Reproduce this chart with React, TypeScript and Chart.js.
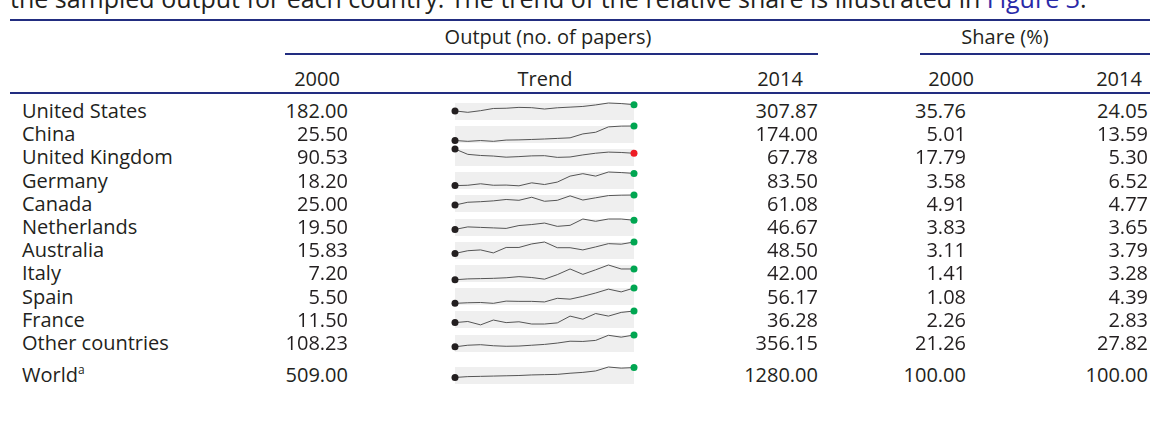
import React, { useEffect, useRef } from 'react';
import { Chart, registerables } from 'chart.js';

Chart.register(...registerables);

// ---------- data ----------
const years = ['2000', '2001', '2002', '2003', '2004', '2005', '2006', '2007', '2008', '2009', '2010', '2011', '2012', '2013', '2014'];

const countries = ['United States', 'China', 'United Kingdom', 'Germany', 'Canada', 'Netherlands', 'Australia', 'Italy', 'Spain', 'France', 'Other countries', 'World'];

const output2000 = [182.0, 25.5, 90.53, 18.2, 25.0, 19.5, 15.83, 7.2, 5.5, 11.5, 108.23, 509.0];
const output2014 = [307.87, 174.0, 67.78, 83.5, 61.08, 46.67, 48.5, 42.0, 56.17, 36.28, 356.15, 1280.0];
const share2000 = [35.76, 5.01, 17.79, 3.58, 4.91, 3.83, 3.11, 1.41, 1.08, 2.26, 21.26, 100.0];
const share2014 = [24.05, 13.59, 5.3, 6.52, 4.77, 3.65, 3.79, 3.28, 4.39, 2.83, 27.82, 100.0];

// yearly output per country (trend sparklines)
const trendUS = [182, 154, 187, 231, 236, 253, 247, 220, 245, 258, 272, 302, 341, 330, 307.87];
const trendChina = [25.5, 17, 25, 17, 30, 32, 36, 41, 47, 53, 93, 110, 165, 173, 174];
const trendUK = [90.53, 62, 56, 53, 47, 50, 54, 55, 46, 48, 59, 68, 74, 72, 67.78];
const trendGermany = [18.2, 20, 28, 20, 21, 17, 33, 24, 37, 69, 82, 69, 91, 88, 83.5];
const trendCanada = [25, 35, 37, 40, 45, 42, 53, 38.5, 42, 58, 43, 51, 59, 60.5, 61.08];
const trendNetherlands = [19.5, 27, 25.5, 24, 22.5, 31, 34, 38.4, 28.6, 31.6, 50.4, 43.6, 50.4, 50.4, 46.67];
const trendAustralia = [15.83, 23.6, 25.9, 17.4, 32.9, 32.9, 43, 48.5, 32.2, 32.2, 25.9, 34.5, 43.8, 42.3, 48.5];
const trendItaly = [7.2, 10, 10.9, 11.8, 13.6, 17.3, 14.5, 9.1, 23.7, 42, 24.6, 39.3, 54.8, 42, 42];
const trendSpain = [5.5, 7.4, 8.3, 5.5, 12.9, 12, 12, 10.1, 22.1, 19.3, 28.6, 39.6, 52.5, 43.3, 56.17];
const trendFrance = [11.5, 13.9, 6.7, 17, 11.5, 13.3, 8.5, 8.5, 10.9, 25.4, 18.8, 30.9, 25.4, 33.3, 36.28];
const trendOthers = [108.23, 142, 153, 131, 120, 125, 142, 159, 187, 226, 221, 243, 350, 311, 356.15];
const trendWorld = [509, 575, 596, 618, 640, 662, 706, 728, 750, 839, 905, 1015, 1324, 1236, 1280];

const trends = [trendUS, trendChina, trendUK, trendGermany, trendCanada, trendNetherlands, trendAustralia, trendItaly, trendSpain, trendFrance, trendOthers, trendWorld];

const headerGroups = ['Output (no. of papers)', 'Share (%)'];
const columnHeaders = ['2000', 'Trend', '2014', '2000', '2014'];

// ---------- style ----------
const FONT = "'Open Sans', sans-serif";
const TEXT = '#231f20';
const RULE = '#222d80';
const W = 1150;
const FS = 20;

const ROW_Y = (i: number) => (i < 11 ? 111 + 23.2 * i : 375);

function Spark({ data, up }: { data: number[]; up: boolean }) {
  const ref = useRef<HTMLCanvasElement | null>(null);
  useEffect(() => {
    if (!ref.current) return;
    const n = data.length;
    const bg = {
      id: 'bg',
      beforeDatasetsDraw(chart: any) {
        const { ctx, chartArea } = chart;
        ctx.save();
        ctx.fillStyle = '#efefef';
        ctx.fillRect(chartArea.left, chartArea.top, chartArea.right - chartArea.left, chartArea.bottom - chartArea.top);
        ctx.restore();
      },
    };
    const chart = new Chart(ref.current, {
      type: 'line',
      data: {
        labels: years,
        datasets: [
          {
            data,
            borderColor: '#555555',
            borderWidth: 1,
            tension: 0,
            clip: false as any,
            pointRadius: data.map((_, i) => (i === 0 || i === n - 1 ? 3.5 : 0)),
            pointBorderWidth: 0,
            pointBackgroundColor: data.map((_, i) => (i === 0 ? '#231f20' : up ? '#00a651' : '#ed1c24')),
            pointBorderColor: 'rgba(0,0,0,0)',
          },
        ],
      },
      options: {
        animation: false,
        responsive: false,
        maintainAspectRatio: false,
        devicePixelRatio: 1,
        layout: { padding: { left: 6, right: 7, top: 3, bottom: 3 } },
        plugins: { legend: { display: false }, tooltip: { enabled: false } },
        events: [],
        scales: {
          x: { display: false, offset: false },
          y: { display: false, min: 0, max: Math.max(...data) },
        },
      },
      plugins: [bg],
    });
    return () => chart.destroy();
  }, [data, up]);
  return <canvas ref={ref} width={192} height={25} style={{ width: 192, height: 25, display: 'block' }} />;
}

function Txt({ x, y, align, children, size = FS, color = TEXT }: any) {
  const lh = 22;
  const base: any = {
    position: 'absolute',
    top: y - lh / 2,
    height: lh,
    lineHeight: lh + 'px',
    fontSize: size,
    color,
    whiteSpace: 'nowrap',
  };
  if (align === 'left') return <div style={{ ...base, left: x }}>{children}</div>;
  if (align === 'right') return <div style={{ ...base, right: W - x, textAlign: 'right' }}>{children}</div>;
  return <div style={{ ...base, left: x - 300, width: 600, textAlign: 'center' }}>{children}</div>;
}

function Rule({ x1, x2, y, h = 2 }: any) {
  return <div style={{ position: 'absolute', left: x1, width: x2 - x1, top: y, height: h, background: RULE }} />;
}

export default function App() {
  return (
    <div
      style={{
        position: 'fixed',
        left: 0,
        top: 0,
        width: W,
        height: 441,
        overflow: 'hidden',
        background: '#ffffff',
        fontFamily: FONT,
        color: TEXT,
      }}
    >
      <div
        style={{
          position: 'absolute',
          left: 10,
          top: -17,
          fontSize: 25,
          lineHeight: '30px',
          whiteSpace: 'nowrap',
          color: TEXT,
        }}
      >
        the sampled output for each country. The trend of the relative share is illustrated in{' '}
        <span style={{ color: '#2a2aa8' }}>Figure 3</span>.
      </div>

      <Rule x1={10} x2={W} y={19} />
      <Txt x={548} y={37} align="center">{headerGroups[0]}</Txt>
      <Txt x={1005} y={37} align="center">{headerGroups[1]}</Txt>
      <Rule x1={285} x2={818} y={53} />
      <Rule x1={920} x2={W} y={53} />

      <Txt x={317} y={79} align="center">{columnHeaders[0]}</Txt>
      <Txt x={545} y={79} align="center">{columnHeaders[1]}</Txt>
      <Txt x={780} y={79} align="center">{columnHeaders[2]}</Txt>
      <Txt x={951} y={79} align="center">{columnHeaders[3]}</Txt>
      <Txt x={1119} y={79} align="center">{columnHeaders[4]}</Txt>
      <Rule x1={10} x2={W} y={92} />

      {countries.map((c, i) => {
        const y = ROW_Y(i);
        return (
          <React.Fragment key={c}>
            <Txt x={22} y={y} align="left">
              {c === 'World' ? (
                <>
                  World<sup style={{ fontSize: 12, lineHeight: 0, verticalAlign: 'super' }}>a</sup>
                </>
              ) : (
                c
              )}
            </Txt>
            <Txt x={348} y={y} align="right">{output2000[i].toFixed(2)}</Txt>
            <div style={{ position: 'absolute', left: 449, top: y - 12.5, width: 192, height: 25 }}>
              <Spark data={trends[i]} up={output2014[i] >= output2000[i]} />
            </div>
            <Txt x={818} y={y} align="right">{output2014[i].toFixed(2)}</Txt>
            <Txt x={966} y={y} align="right">{share2000[i].toFixed(2)}</Txt>
            <Txt x={1148} y={y} align="right">{share2014[i].toFixed(2)}</Txt>
          </React.Fragment>
        );
      })}
    </div>
  );
}
